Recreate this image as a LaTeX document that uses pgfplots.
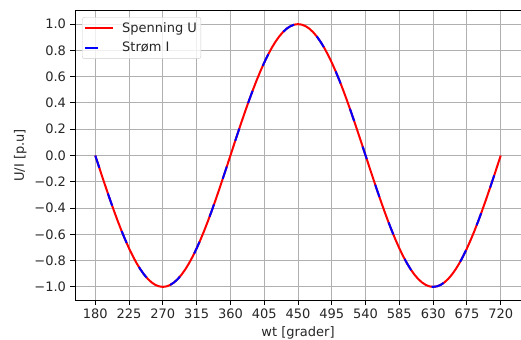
\documentclass[border=0pt]{standalone}
\usepackage{fontspec}
\setmainfont{DejaVu Sans}
\usepackage{pgfplots}
\usepackage{pgfplotstable}
\pgfplotsset{compat=1.18}
\pgfplotstableread{
x y
180 0
185 -0.0872
190 -0.1736
195 -0.2588
200 -0.3420
205 -0.4226
210 -0.5000
215 -0.5736
220 -0.6428
225 -0.7071
230 -0.7660
235 -0.8192
240 -0.8660
245 -0.9063
250 -0.9397
255 -0.9659
260 -0.9848
265 -0.9962
270 -1.0000
275 -0.9962
280 -0.9848
285 -0.9659
290 -0.9397
295 -0.9063
300 -0.8660
305 -0.8192
310 -0.7660
315 -0.7071
320 -0.6428
325 -0.5736
330 -0.5000
335 -0.4226
340 -0.3420
345 -0.2588
350 -0.1736
355 -0.0872
360 0
365 0.0872
370 0.1736
375 0.2588
380 0.3420
385 0.4226
390 0.5000
395 0.5736
400 0.6428
405 0.7071
410 0.7660
415 0.8192
420 0.8660
425 0.9063
430 0.9397
435 0.9659
440 0.9848
445 0.9962
450 1.0000
455 0.9962
460 0.9848
465 0.9659
470 0.9397
475 0.9063
480 0.8660
485 0.8192
490 0.7660
495 0.7071
500 0.6428
505 0.5736
510 0.5000
515 0.4226
520 0.3420
525 0.2588
530 0.1736
535 0.0872
540 0
545 -0.0872
550 -0.1736
555 -0.2588
560 -0.3420
565 -0.4226
570 -0.5000
575 -0.5736
580 -0.6428
585 -0.7071
590 -0.7660
595 -0.8192
600 -0.8660
605 -0.9063
610 -0.9397
615 -0.9659
620 -0.9848
625 -0.9962
630 -1.0000
635 -0.9962
640 -0.9848
645 -0.9659
650 -0.9397
655 -0.9063
660 -0.8660
665 -0.8192
670 -0.7660
675 -0.7071
680 -0.6428
685 -0.5736
690 -0.5000
695 -0.4226
700 -0.3420
705 -0.2588
710 -0.1736
715 -0.0872
720 0
}\sinedata
\definecolor{gridgray}{RGB}{176,176,176}
\definecolor{textgray}{RGB}{38,38,38}
\begin{document}
\fontsize{13bp}{15.6bp}\selectfont
\begin{tikzpicture}
\path[use as bounding box] (0,0) rectangle (521bp,340bp);
\begin{axis}[
  at={(75bp,40bp)}, anchor=south west,
  scale only axis,
  width=446bp, height=289bp,
  xmin=153, xmax=747,
  ymin=-1.1, ymax=1.1,
  xtick={180,225,...,720},
  ytick={-1.0,-0.8,-0.6,-0.4,-0.2,0.0,0.2,0.4,0.6,0.8,1.0},
  yticklabels={−1.0,−0.8,−0.6,−0.4,−0.2,0.0,0.2,0.4,0.6,0.8,1.0},
  /pgf/number format/assume math mode=true,
  tick label style={font=\fontsize{13bp}{15.6bp}\selectfont, text=textgray},
  tick align=outside,
  tick pos=left,
  major tick length=4.5bp,
  every tick/.style={black, line width=1bp},
  axis line style={black, line width=1bp},
  grid=major,
  grid style={gridgray, line width=1bp},
  xlabel={wt [grader]},
  ylabel={U/I [p.u]},
  label style={font=\fontsize{13bp}{15.6bp}\selectfont, text=textgray},
  xlabel style={yshift=1.5bp},
  ylabel style={yshift=-1bp},
  legend cell align=left,
  legend style={at={(0.0157,0.979)}, anchor=north west,
    draw=gray!40, rounded corners=2.5bp, fill=white, fill opacity=0.8, text opacity=1,
    font=\fontsize{13bp}{15.6bp}\selectfont, text=textgray,
    inner xsep=2bp, inner ysep=3bp,
    row sep=4bp, column sep=6bp,
    nodes={inner xsep=2bp, inner ysep=2bp}},
  legend image code/.code={\draw[#1] (0bp,0bp) -- (28bp,0bp);},
]
\addplot[red, line width=2bp, no markers] table[x=x,y=y] {\sinedata};
\addlegendentry{Spenning U}
\addplot[blue, line width=2bp, no markers, dash pattern=on 13bp off 27bp] table[x=x,y=y] {\sinedata};
\addlegendentry{Strøm I}
\end{axis}
\end{tikzpicture}
\end{document}
